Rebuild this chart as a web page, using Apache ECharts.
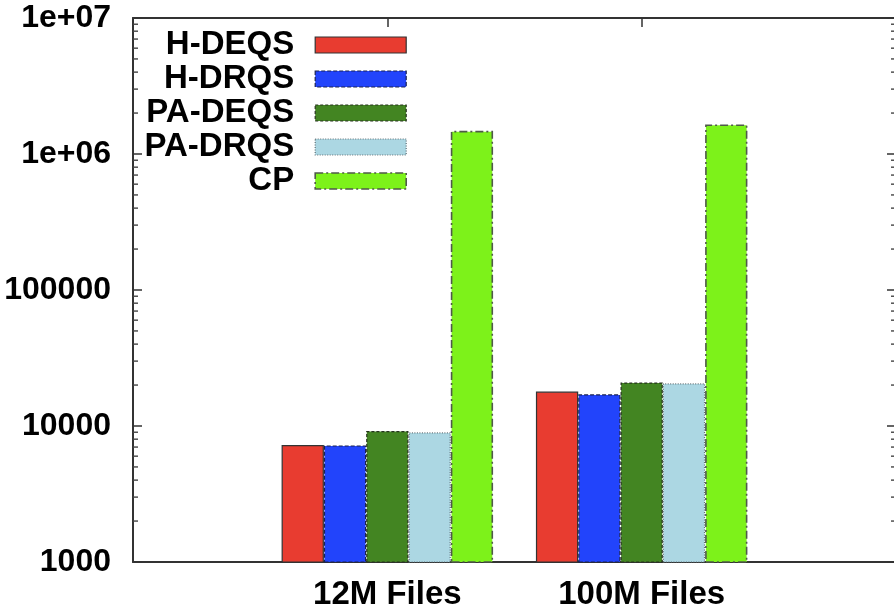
<!DOCTYPE html>
<html>
<head>
<meta charset="utf-8">
<script src="https://cdn.jsdelivr.net/npm/echarts@6/dist/echarts.min.js"></script>
<style>
html,body{margin:0;padding:0;background:#fff;}
#chart{width:894px;height:613px;}
</style>
</head>
<body>
<div id="chart"></div>
<script>
// categories (padded with empty slots so groups sit at gnuplot's x = 0 and 1 in [-1, 2])
const categories = ['', '12M Files', '100M Files', ''];
const seriesNames = ['H-DEQS', 'H-DRQS', 'PA-DEQS', 'PA-DRQS', 'CP'];
const hDEQS  = [null, 7240, 17900, null];
const hDRQS  = [null, 7200, 17100, null];
const paDEQS = [null, 9190, 20900, null];
const paDRQS = [null, 8990, 20600, null];
const cp     = [null, 1480000, 1650000, null];
const minorTickValues = [2000,3000,4000,5000,6000,7000,8000,9000,
  20000,30000,40000,50000,60000,70000,80000,90000,
  200000,300000,400000,500000,600000,700000,800000,900000,
  2000000,3000000,4000000,5000000,6000000,7000000,8000000,9000000];
const yMin = 1000, yMax = 10000000;

const colors = ['#e83c30', '#2244fb', '#438522', '#acd7e3', '#7df21a'];
const borders = [
  {borderColor:'#333333', borderType:'solid', borderWidth:1.2},
  {borderColor:'#1a2250', borderType:[4,2], borderWidth:1.2},
  {borderColor:'#26331f', borderType:[3,2], borderWidth:1.2},
  {borderColor:'#5f6f75', borderType:[1,1.5], borderWidth:1.2},
  {borderColor:'#4f5a4a', borderType:[8,3,2,3], borderWidth:1.6}
];
const dataArr = [hDEQS, hDRQS, paDEQS, paDRQS, cp];

const chart = echarts.init(document.getElementById('chart'), null, {renderer:'canvas'});
const font = 'Liberation Sans, Arial, Helvetica, sans-serif';

const barSeries = seriesNames.map((n, i) => ({
  name: n,
  type: 'bar',
  data: dataArr[i],
  barWidth: 42.3,
  barGap: '0%',
  itemStyle: Object.assign({color: colors[i]}, borders[i]),
  emphasis: {disabled: true},
  z: 2
}));

const minorSeries = {
  type: 'custom',
  name: 'minor',
  xAxisIndex: 0,
  yAxisIndex: 0,
  data: minorTickValues.map(v => [1, v]),
  silent: true,
  z: 5,
  clip: false,
  renderItem: function (params, api) {
    const pt = api.coord([1, api.value(1)]);
    const cs = params.coordSys;
    const style = {stroke: '#444', lineWidth: 1.4};
    return {
      type: 'group',
      children: [
        {type: 'line', shape: {x1: cs.x, y1: pt[1], x2: cs.x + 5, y2: pt[1]}, style: style},
        {type: 'line', shape: {x1: cs.x + cs.width, y1: pt[1], x2: cs.x + cs.width - 5, y2: pt[1]}, style: style}
      ]
    };
  }
};

const option = {
  backgroundColor: '#ffffff',
  animation: false,
  grid: {left: 133, top: 18, width: 763, bottom: 51, containLabel: false, outerBoundsMode: 'none'},
  legend: {
    data: seriesNames.map((n, i) => ({
      name: n,
      icon: 'rect',
      itemStyle: Object.assign({color: colors[i]}, borders[i])
    })),
    orient: 'vertical',
    align: 'right',
    right: 487,
    top: 28,
    padding: 0,
    itemGap: 0,
    itemWidth: 91,
    itemHeight: 16,
    selectedMode: false,
    textStyle: {
      fontFamily: font, fontWeight: 'bold', fontSize: 33, color: '#000',
      lineHeight: 34, padding: [0, 16, 0, 0]
    }
  },
  xAxis: [
    {
      type: 'category', data: categories, boundaryGap: false, position: 'bottom',
      axisLine: {show: true, lineStyle: {color: '#333', width: 2}},
      axisTick: {show: false},
      axisLabel: {fontFamily: font, fontWeight: 'bold', fontSize: 33, color: '#000', margin: 16, interval: 0},
      splitLine: {show: false}
    },
    {
      type: 'category', data: categories, boundaryGap: false, position: 'top',
      axisLine: {show: true, lineStyle: {color: '#333', width: 2}},
      axisTick: {show: true, inside: true, length: 9, lineStyle: {color: '#333', width: 1.5}},
      axisLabel: {show: false},
      splitLine: {show: false}
    }
  ],
  yAxis: [
    {
      type: 'log', logBase: 10, min: yMin, max: yMax, position: 'left',
      axisLine: {show: true, lineStyle: {color: '#333', width: 2}},
      axisTick: {show: true, inside: true, length: 9, lineStyle: {color: '#333', width: 1.5}},
      axisLabel: {
        fontFamily: font, fontWeight: 'bold', fontSize: 32, color: '#000', margin: 22,
        formatter: function (v) {
          const e = Math.round(Math.log10(v));
          if (e >= 6) return '1e+0' + e;
          return String(Math.round(v));
        }
      },
      splitLine: {show: false},
      minorTick: {show: false}
    },
    {
      type: 'log', logBase: 10, min: yMin, max: yMax, position: 'right',
      axisLine: {show: true, lineStyle: {color: '#333', width: 2}},
      axisTick: {show: true, inside: true, length: 9, lineStyle: {color: '#333', width: 1.5}},
      axisLabel: {show: false},
      splitLine: {show: false}
    }
  ],
  series: barSeries.concat([minorSeries])
};
chart.setOption(option);
</script>
</body>
</html>
